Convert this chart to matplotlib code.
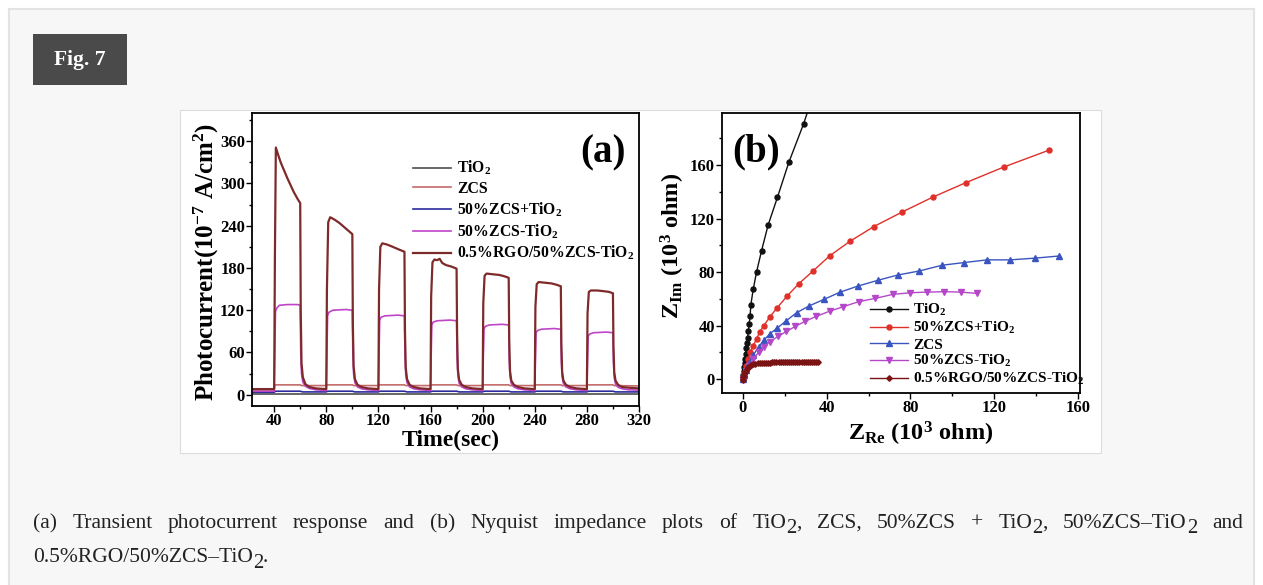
import matplotlib
matplotlib.use('Agg')
import matplotlib.pyplot as plt
from matplotlib.patches import Rectangle
from matplotlib.transforms import IdentityTransform
from matplotlib.ticker import MultipleLocator

# ---------------- data : panel (a) transient photocurrent ----------------
tio2_t = [23, 320]
tio2_i = [1.5, 1.5]

zcs_t = [23, 40, 40.6, 60, 61, 80, 80.6, 100, 101, 120, 120.6, 140, 141, 160, 160.6, 180, 181,
         200, 200.6, 220, 221, 240, 240.6, 260, 261, 280, 280.6, 300, 301, 320]
zcs_i = [7, 7, 14, 14, 13, 13, 14, 14, 13, 13, 14, 14, 13, 13, 14, 14, 13,
         13, 14, 14, 13, 13, 14, 14, 13, 13, 14, 14, 13, 12.5]

mix_t = [23, 40, 41, 60, 62, 80, 81, 100, 102, 120, 121, 140, 142, 160, 161, 180, 182,
         200, 201, 220, 222, 240, 241, 260, 262, 280, 281, 300, 302, 320]
mix_i = [3.5, 3.5, 5, 5, 4, 4, 5, 5, 4, 4, 5, 5, 4, 4, 5, 5, 4,
         4, 5, 5, 4, 4, 5, 5, 4, 4, 5, 5, 4, 4]

het_t = [23, 40, 40.5, 41, 42, 44, 50, 58, 60, 60.4, 61, 62, 64, 67, 72,
         80, 80.5, 81, 82, 85, 95, 100, 100.4, 101, 102, 104, 107, 112,
         120, 120.5, 121, 122, 125, 135, 140, 140.4, 141, 142, 144, 147, 152,
         160, 160.5, 161, 162, 165, 175, 180, 180.4, 181, 182, 184, 187, 192,
         200, 200.5, 201, 202, 205, 215, 220, 220.4, 221, 222, 224, 227, 232,
         240, 240.5, 241, 242, 245, 255, 260, 260.4, 261, 262, 264, 267, 272,
         280, 280.5, 281, 282, 285, 295, 300, 300.4, 301, 302, 304, 307, 312, 320]
het_i = [5, 5, 60, 118, 123, 127, 128, 128, 127, 60, 30, 18, 12, 9, 7,
         6, 60, 112, 117, 120, 121, 120, 58, 29, 17, 11, 8.5, 7,
         6, 58, 106, 110, 112, 113, 112, 55, 28, 17, 11, 8.5, 7,
         6, 55, 99, 103, 105, 106, 105, 52, 27, 16, 11, 8.5, 7,
         6, 52, 93, 97, 99, 100, 99, 50, 26, 16, 11, 8.5, 7,
         6, 50, 88, 91, 93, 94, 93, 48, 25, 16, 11, 8.5, 7,
         6, 48, 83, 86, 88, 89, 88, 46, 24, 15, 10.5, 8.5, 7, 6.5]

rgo_t = [23, 40, 40.6, 41.3, 43, 45, 50, 55, 58, 60, 60.4, 61, 62, 64, 67, 72,
         80, 80.5, 81.5, 83, 86, 90, 95, 100, 100.4, 101, 102, 104, 107, 112,
         120, 120.5, 121.5, 123, 127, 131, 136, 140, 140.4, 141, 142, 144, 147, 152,
         160, 160.5, 161.5, 163, 165, 167, 169, 172, 176, 180, 180.4, 181, 182, 184, 187, 192,
         200, 200.5, 201.5, 203, 208, 213, 217, 220, 220.4, 221, 222, 224, 227, 232,
         240, 240.5, 241.5, 243, 248, 253, 257, 260, 260.4, 261, 262, 264, 267, 272,
         280, 280.5, 281.5, 283, 288, 293, 297, 300, 300.4, 301, 302, 304, 307, 312, 320]
rgo_i = [8, 8, 200, 351, 341, 330, 308, 288, 278, 272, 120, 45, 25, 15, 11, 9,
         8, 150, 245, 252, 249, 244, 236, 228, 100, 40, 22, 14, 11, 9,
         8, 150, 210, 215, 213, 210, 206, 203, 90, 38, 22, 14, 11, 9,
         8, 140, 188, 192, 191, 193, 187, 184, 182, 179, 85, 36, 21, 14, 11, 9,
         8, 130, 169, 172, 171, 170, 168, 166, 80, 34, 20, 14, 11, 9,
         8, 125, 157, 160, 159, 158, 156, 154, 75, 33, 20, 14, 11, 9,
         8, 115, 146, 148, 148, 147, 146, 144, 70, 32, 20, 14, 11, 10, 9]

# ---------------- data : panel (b) Nyquist plots ----------------
n_tio2_x = [0, 0.2, 0.4, 0.6, 0.8, 1.0, 1.3, 1.6, 1.9, 2.2, 2.6, 3.0, 3.4, 3.8, 4.9, 6.5, 8.9,
            12.0, 16.5, 21.9, 29.0, 33.0]
n_tio2_y = [0, 3, 6, 9, 12, 15, 19, 23, 27, 31, 36, 41, 47, 55.7, 67, 80, 96,
            115, 136, 162, 191, 210]

n_mix_x = [0, 0.3, 0.8, 1.5, 2.5, 3.5, 5, 6.5, 8, 10, 12.9, 16.3, 21.1, 26.7, 33.5, 41.4,
           51.1, 62.5, 75.9, 90.6, 106.5, 124.8, 146.2]
n_mix_y = [0, 2, 5, 10, 15, 20, 25, 30, 35, 40, 46.5, 53.2, 62, 71.3, 80.8, 92.1,
           103, 114, 124.8, 136, 146.9, 158.7, 171.2]

n_zcs_x = [0, 0.5, 1.5, 3, 5, 7.5, 10, 13, 16.5, 20.8, 25.6, 31.4, 38.6, 46.5, 54.9, 64.4,
           74, 84.3, 95.1, 105.7, 116.5, 127.5, 139.5, 151]
n_zcs_y = [0, 3, 7, 12, 18, 24, 29, 34, 38.2, 43.7, 49.5, 54.5, 59.5, 65, 69.5, 73.8,
           77.8, 80.8, 85.1, 87.1, 89.1, 89.1, 90.4, 92]

n_het_x = [0, 0.5, 1.5, 3, 5, 7.5, 10, 13, 16.8, 20.8, 25.1, 29.8, 35.1, 41.4, 47.8, 55.2,
           63.2, 71.6, 80, 87.9, 96.2, 104.1, 112]
n_het_y = [0, 2, 6, 10, 15, 20, 24, 28, 31.9, 35.6, 39.4, 43.2, 46.9, 50.7, 54, 57.8,
           60.3, 63.3, 64.5, 65, 65.3, 65, 64]

n_rgo_x = [0, 0.2, 0.4, 0.7, 1.0, 1.4, 1.9, 2.5, 3.2, 4.0, 5, 6, 7, 8, 9, 10, 11, 12, 13, 14,
           15, 16, 17, 18, 19, 20, 21, 22, 23, 24, 25, 26, 27, 28, 29, 30, 31, 32, 33, 34, 35, 36]
n_rgo_y = [-1, 1.2, 2.4, 3.8, 5.0, 6.3, 7.5, 8.6, 9.5, 10.3, 10.9, 11.3, 11.6, 11.8, 12.0, 12.1,
           12.2, 12.3, 12.3, 12.4, 12.4, 12.4, 12.5, 12.5, 12.5, 12.5, 12.5, 12.6, 12.6, 12.6,
           12.6, 12.7, 12.7, 12.7, 12.8, 12.8, 12.8, 12.8, 12.9, 12.9, 12.8, 12.6]

labels_a = [r'TiO$\mathregular{_2}$', 'ZCS', r'50%ZCS+TiO$\mathregular{_2}$',
            r'50%ZCS-TiO$\mathregular{_2}$', r'0.5%RGO/50%ZCS-TiO$\mathregular{_2}$']
labels_b = [r'TiO$\mathregular{_2}$', r'50%ZCS+TiO$\mathregular{_2}$', 'ZCS',
            r'50%ZCS-TiO$\mathregular{_2}$', r'0.5%RGO/50%ZCS-TiO$\mathregular{_2}$']

# ---------------- figure ----------------
W, H = 1263, 585
plt.rcParams['font.family'] = ['Liberation Serif', 'DejaVu Serif']
plt.rcParams['font.weight'] = 'bold'
plt.rcParams['axes.labelweight'] = 'bold'

fig = plt.figure(figsize=(W / 100, H / 100), dpi=100)
fig.patch.set_facecolor('white')
PX = IdentityTransform()

def Y(y):
    return H - y

# page background boxes
fig.add_artist(Rectangle((9, -20), 1245, Y(9) + 20, facecolor='#f7f7f7', edgecolor='#e3e3e3',
                         lw=1.5, transform=PX, zorder=-10))
fig.add_artist(Rectangle((180, Y(453)), 921, 343, facecolor='white', edgecolor='#dcdcdc',
                         lw=0.8, transform=PX, zorder=-9))
fig.add_artist(Rectangle((33, Y(85)), 94, 51, facecolor='#4a4a4a', edgecolor='none',
                         transform=PX, zorder=-8))
fig.text(80, Y(60), 'Fig. 7', color='white', fontsize=15.5, fontweight='bold',
         ha='center', va='center', transform=PX)

def axes_px(l, t, r, b):
    return fig.add_axes([l / W, (H - b) / H, (r - l) / W, (b - t) / H])

def style(ax, xmaj, xmin, ymaj, ymin):
    ax.xaxis.set_major_locator(MultipleLocator(xmaj))
    ax.xaxis.set_minor_locator(MultipleLocator(xmin))
    ax.yaxis.set_major_locator(MultipleLocator(ymaj))
    ax.yaxis.set_minor_locator(MultipleLocator(ymin))
    ax.tick_params(which='both', direction='out', top=False, right=False, width=1.0,
                   labelsize=12, pad=1)
    ax.tick_params(which='major', length=4)
    ax.tick_params(which='minor', length=2.5)
    for s in ax.spines.values():
        s.set_linewidth(1.3)

# ---------- panel (a) ----------
axa = axes_px(252, 113, 639, 406)
axa.plot(tio2_t, tio2_i, color='#4d4d4d', lw=1.2, label=labels_a[0])
axa.plot(zcs_t, zcs_i, color='#c46a6a', lw=1.2, label=labels_a[1])
axa.plot(mix_t, mix_i, color='#2b2b9e', lw=1.2, label=labels_a[2])
axa.plot(het_t, het_i, color='#c044c8', lw=1.2, label=labels_a[3])
axa.plot(rgo_t, rgo_i, color='#7f2a2a', lw=1.6, label=labels_a[4])
axa.set_xlim(23, 320)
axa.set_ylim(-16, 400)
style(axa, 40, 20, 60, 30)
axa.legend(loc='upper left', bbox_to_anchor=((413 - 252) / 387, (406 - 159) / 293),
           frameon=False, fontsize=11.3, handlelength=2.4, handletextpad=0.4,
           labelspacing=0.22, borderpad=0, borderaxespad=0)
axa.text(603, Y(153), '(a)', transform=PX, fontsize=28, fontweight='bold',
         ha='center', va='center')
fig.text(206, Y(262), r'Photocurrent(10$\mathregular{^{-7}}$ A/cm$\mathregular{^2}$)',
         rotation=90, fontsize=18, fontweight='bold', ha='center', va='center', transform=PX)
fig.text(451, Y(440), 'Time(sec)', fontsize=17, fontweight='bold', ha='center',
         va='center', transform=PX)

# ---------- panel (b) ----------
axb = axes_px(722, 113, 1080, 393)
ms = 3.6
axb.plot(n_tio2_x, n_tio2_y, color='#111111', lw=1.0, marker='o', ms=ms, label=labels_b[0])
axb.plot(n_mix_x, n_mix_y, color='#e0302a', lw=1.0, marker='o', ms=ms, label=labels_b[1])
axb.plot(n_zcs_x, n_zcs_y, color='#3a55c0', lw=1.0, marker='^', ms=ms + 0.5, label=labels_b[2])
axb.plot(n_het_x, n_het_y, color='#b548c8', lw=1.0, marker='v', ms=ms + 0.5, label=labels_b[3])
axb.plot(n_rgo_x, n_rgo_y, color='#7a1414', lw=1.0, marker='D', ms=2.8, label=labels_b[4])
axb.set_xlim(-10, 161)
axb.set_ylim(-10.5, 199)
style(axb, 40, 20, 40, 20)
axb.legend(loc='upper left', bbox_to_anchor=((870 - 722) / 358, (393 - 302) / 280),
           frameon=False, fontsize=11, handlelength=2.5, handletextpad=0.3,
           labelspacing=0.12, borderpad=0, borderaxespad=0, numpoints=1)
axb.text(756, Y(152), '(b)', transform=PX, fontsize=28, fontweight='bold',
         ha='center', va='center')
fig.text(673, Y(246), r'$\mathregular{Z_{Im}}$ (10$\mathregular{^3}$ ohm)',
         rotation=90, fontsize=17.5, fontweight='bold', ha='center', va='center', transform=PX)
fig.text(921, Y(434), r'$\mathregular{Z_{Re}}$ (10$\mathregular{^3}$ ohm)', fontsize=17.5,
         fontweight='bold', ha='center', va='center', transform=PX)

# ---------- caption (justified) ----------
cap_line1 = [[('(a)', 0)], [('Transient', 0)], [('photocurrent', 0)], [('response', 0)],
             [('and', 0)], [('(b)', 0)], [('Nyquist', 0)], [('impedance', 0)], [('plots', 0)],
             [('of', 0)], [('TiO', 0), ('2', 1), (',', 0)], [('ZCS,', 0)], [('50%ZCS', 0)],
             [('+', 0)], [('TiO', 0), ('2', 1), (',', 0)], [('50%ZCS–TiO', 0), ('2', 1)],
             [('and', 0)]]
cap_line2 = [[('0.5%RGO/50%ZCS–TiO', 0), ('2', 1), ('.', 0)]]
CAP_FS = 15.5
renderer = fig.canvas.get_renderer()

def piece_w(s, fs):
    t = fig.text(0, 0, s, fontsize=fs, fontweight='normal', transform=PX)
    w = t.get_window_extent(renderer).width
    t.remove()
    return w

def word_w(word):
    return sum(piece_w(s, CAP_FS * (0.95 if sub else 1)) for s, sub in word)

def draw_word(x, yb, word):
    for s, sub in word:
        fs = CAP_FS * (0.95 if sub else 1)
        fig.text(x, yb - (5 if sub else 0), s, fontsize=fs, fontweight='normal',
                 color='#222222', ha='left', va='baseline', transform=PX)
        x += piece_w(s, fs)
    return x

widths = [word_w(w) for w in cap_line1]
gap = (1243 - 33 - sum(widths)) / (len(cap_line1) - 1)
x = 33
for w, ww in zip(cap_line1, widths):
    draw_word(x, Y(528), w)
    x += ww + gap
draw_word(33, Y(562.5), cap_line2[0])

fig.savefig('out.png', dpi=100)
